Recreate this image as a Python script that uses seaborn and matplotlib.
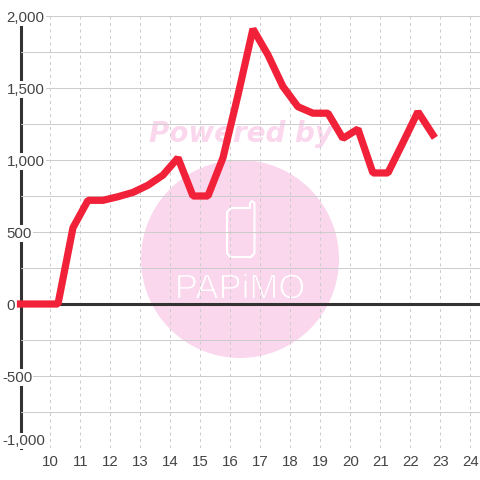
import matplotlib
matplotlib.use("Agg")
import matplotlib.pyplot as plt
import matplotlib.patheffects as pe
from matplotlib.patches import Circle, Polygon
from matplotlib.ticker import MultipleLocator
from matplotlib.transforms import Affine2D
import pandas as pd
import seaborn as sns

hours = [9.0, 9.25, 9.75, 10.25, 10.75, 11.25, 11.75, 12.25, 12.75, 13.25, 13.75,
         14.25, 14.75, 15.25, 15.75, 16.25, 16.75, 17.25, 17.75, 18.25, 18.75,
         19.25, 19.75, 20.25, 20.75, 21.25, 21.75, 22.25, 22.75]
values = [0, 0, 0, 0, 530, 720, 720, 745, 775, 825, 895,
          1015, 750, 750, 1015, 1450, 1910, 1730, 1510, 1370, 1325,
          1325, 1150, 1215, 910, 910, 1120, 1335, 1175]
x_ticks = list(range(10, 25))
y_ticks = [-1000, -500, 0, 500, 1000, 1500, 2000]
y_labels = ["-1,000", "-500", "0", "500", "1,000", "1,500", "2,000"]

GRID = "#cccccc"
DARK = "#333333"
RED = "#f02138"
PINK = "#fbd7ee"
TEXT = "#444444"

# outline of the phone in the watermark, pixels from the top-left corner
PHONE = [(250, 208), (250, 203), (252, 201), (254.5, 203), (254.5, 253), (251, 257),
         (230, 257), (227, 253), (227, 212), (231, 208)]

sns.set_theme(style="whitegrid")
plt.rcParams["font.family"] = ["Liberation Sans", "DejaVu Sans"]

df = pd.DataFrame({"hour": hours, "value": values})

fig = plt.figure(figsize=(4.8, 4.8), dpi=100, facecolor="white")
ax = fig.add_axes([20.5 / 480, 32 / 480, 459.5 / 480, 432 / 480])
ax.set_facecolor("none")

# watermark sits under the grid
ax.add_patch(Circle((240, 480 - 259), 99, transform=None, color=PINK, lw=0,
                    zorder=0.1, clip_on=False))
ax.add_patch(Polygon([(x, 480 - y) for x, y in PHONE], closed=True, transform=None,
                     fc="none", ec="white", lw=1.5, joinstyle="round",
                     zorder=0.2, clip_on=False))
ax.text(240.5 / 480, 1 - 134 / 480, "Powered by", transform=fig.transFigure, fontsize=20,
        fontweight="bold", style="italic", color=PINK, ha="center", va="center",
        family=["DejaVu Sans"], zorder=0.1)
logo = ax.text(240 / 480, 1 - 289 / 480, "PAPiMO", transform=fig.transFigure, fontsize=25,
               color="white", ha="center", va="center", zorder=0.2)
logo.set_path_effects([pe.Stroke(linewidth=0.8, foreground=PINK)])

sns.lineplot(data=df, x="hour", y="value", ax=ax, color=RED, linewidth=5.2, zorder=3,
             solid_capstyle="projecting", solid_joinstyle="bevel", errorbar=None,
             clip_on=False)
ax.axhline(0, color=DARK, lw=2.2, zorder=2)

ax.set_xlim(9, 24.32)
ax.set_ylim(-1000, 2000)
ax.set_xlabel("")
ax.set_ylabel("")
ax.set_xticks(x_ticks)
ax.set_yticks(y_ticks, y_labels)
ax.yaxis.set_minor_locator(MultipleLocator(250))
ax.set_axisbelow(True)

ax.grid(False)
ax.grid(True, axis="x", color=GRID, lw=0.72, ls=(0, (3, 3.5)))
ax.grid(True, axis="y", which="both", color=GRID, lw=0.72, ls="-")
ax.tick_params(axis="both", which="both", length=0, labelsize=10.8, labelcolor=TEXT)
ax.tick_params(axis="y", pad=10)
ax.tick_params(axis="x", pad=5)

for name in ["top", "right", "bottom"]:
    ax.spines[name].set_visible(False)
ax.spines["left"].set_color(DARK)
ax.spines["left"].set_linewidth(2.2)
ax.spines["left"].set_zorder(0.4)

for label in ax.get_yticklabels():
    label.set_ha("left")
    label.set_bbox(dict(facecolor="white", edgecolor="none", pad=0.8))
    if label.get_text().startswith("-"):
        label.set_transform(label.get_transform() + Affine2D().translate(-4.5, 0))
    if label.get_text() == "-1,000":
        label.set_va("bottom")

fig.savefig("out.png", dpi=100, facecolor="white")
